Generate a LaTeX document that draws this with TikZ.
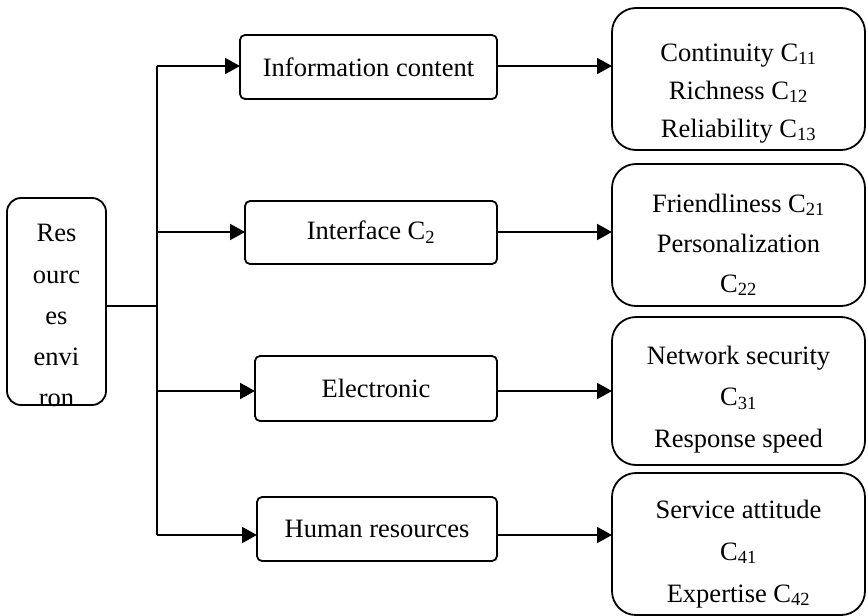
\documentclass[tikz,border=0pt]{standalone}
\usepackage{fontspec}
\setmainfont{Liberation Serif}
\usetikzlibrary{arrows.meta}
\begin{document}
\begin{tikzpicture}[x=1pt,y=-1pt,
  every node/.style={inner sep=0pt,outer sep=0pt},
  midbox/.style={draw,line width=1.8pt,rounded corners=5pt,font=\fontsize{26.5}{30}\selectfont},
  rightbox/.style={draw,line width=1.8pt,rounded corners=24pt,minimum width=253pt},
  leftbox/.style={draw,line width=1.8pt,rounded corners=14pt},
  txt/.style={anchor=north,align=center},
  conn/.style={line width=2pt},
  arr/.style={line width=2pt,-{Triangle[length=15pt,width=16pt]}}
]
\useasboundingbox (0,0) rectangle (868,616);
% left box
\node[leftbox,minimum width=99pt,minimum height=207pt] (L) at (56.5,301.5) {};
\node[txt,font=\fontsize{26.5}{41.25}\selectfont] (Lt) at (56.5,213.1)
  {\strut Res\\\strut ourc\\\strut es\\\strut envi\\\strut ron};
% middle boxes
\node[midbox,minimum width=257pt,minimum height=64pt] (m1) at (368.5,67) {Information content};
\node[midbox,minimum width=252pt,minimum height=63pt] (m2) at (371,232.5) {Interface C\textsubscript{2}};
\node[midbox,minimum width=242pt,minimum height=65pt] (m3) at (376,388.5) {Electronic};
\node[midbox,minimum width=240pt,minimum height=64pt] (m4) at (377,529) {Human resources};
% right boxes
\node[rightbox,minimum height=142pt] (r1) at (738.5,79) {};
\node[rightbox,minimum height=142pt] (r2) at (738.5,235) {};
\node[rightbox,minimum height=148pt] (r3) at (738.5,391) {};
\node[rightbox,minimum height=142pt] (r4) at (738.5,544) {};
\node[txt,font=\fontsize{26.5}{38}\selectfont] (r1t) at (738.5,34.4)
  {\strut Continuity C\textsubscript{11}\\\strut Richness C\textsubscript{12}\\\strut Reliability C\textsubscript{13}};
\node[txt,font=\fontsize{26.5}{40}\selectfont] (r2t) at (738.5,184)
  {\strut Friendliness C\textsubscript{21}\\\strut Personalization\\\strut C\textsubscript{22}};
\node[txt,font=\fontsize{26.5}{41.5}\selectfont] (r3t) at (738.5,334.95)
  {\strut Network security\\\strut C\textsubscript{31}\\\strut Response speed};
\node[txt,font=\fontsize{26.5}{42}\selectfont] (r4t) at (738.5,488.6)
  {\strut Service attitude\\\strut C\textsubscript{41}\\\strut Expertise C\textsubscript{42}};
% trunk coordinates
\coordinate (t1) at (157,66);
\coordinate (t2) at (157,232);
\coordinate (t3) at (157,391);
\coordinate (t4) at (157,535);
\coordinate (tj) at (157,306);
\draw[conn] (t1) -- (t4);
\draw[conn] (L.east |- tj) -- (tj);
% arrows to middle boxes
\draw[arr] (t1) -- (t1 -| m1.west);
\draw[arr] (t2) -- (t2 -| m2.west);
\draw[arr] (t3) -- (t3 -| m3.west);
\draw[arr] (t4) -- (t4 -| m4.west);
% arrows to right boxes
\draw[arr] (t1 -| m1.east) -- (t1 -| r1.west);
\draw[arr] (t2 -| m2.east) -- (t2 -| r2.west);
\draw[arr] (t3 -| m3.east) -- (t3 -| r3.west);
\draw[arr] (t4 -| m4.east) -- (t4 -| r4.west);
\end{tikzpicture}
\end{document}
